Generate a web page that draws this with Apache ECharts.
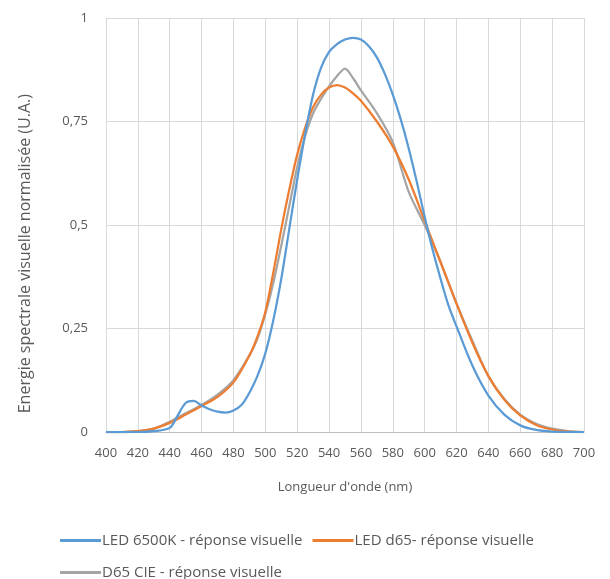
<!DOCTYPE html>
<html>
<head>
<meta charset="utf-8">
<script src="https://cdn.jsdelivr.net/npm/echarts@6/dist/echarts.min.js"></script>
<style>
  html, body { margin: 0; padding: 0; background: #fff; }
  #chart { width: 610px; height: 579px; }
</style>
</head>
<body>
<div id="chart"></div>
<script>
// longueurs d'onde (nm) et réponses normalisées
const ledWl = [400, 410, 420, 430, 440, 445, 450, 455, 460, 465, 470, 475, 480, 485, 490, 495, 500, 505, 510, 515, 520, 525, 530, 535, 540, 545, 550, 555, 560, 565, 570, 575, 580, 585, 590, 595, 600, 605, 610, 615, 620, 630, 640, 650, 660, 670, 680, 690, 700];
const led6500k = [0, 0, 0, 0.002, 0.01, 0.04, 0.07, 0.075, 0.064, 0.055, 0.049, 0.047, 0.052, 0.065, 0.095, 0.135, 0.19, 0.27, 0.37, 0.49, 0.61, 0.72, 0.815, 0.88, 0.918, 0.937, 0.948, 0.952, 0.948, 0.932, 0.905, 0.865, 0.815, 0.755, 0.685, 0.605, 0.52, 0.44, 0.37, 0.305, 0.255, 0.16, 0.088, 0.042, 0.016, 0.005, 0.001, 0, 0];

const d65Wl = [400, 410, 420, 430, 440, 450, 460, 470, 480, 490, 495, 500, 505, 510, 515, 520, 525, 530, 535, 540, 545, 550, 555, 560, 570, 580, 590, 600, 610, 620, 630, 640, 650, 660, 670, 680, 690, 700];
const ledD65 = [0, 0, 0.002, 0.008, 0.022, 0.042, 0.063, 0.085, 0.12, 0.185, 0.23, 0.29, 0.385, 0.49, 0.585, 0.67, 0.735, 0.785, 0.815, 0.832, 0.838, 0.832, 0.818, 0.8, 0.75, 0.69, 0.61, 0.51, 0.41, 0.31, 0.215, 0.135, 0.078, 0.04, 0.017, 0.006, 0.001, 0];

const cieWl = [400, 410, 420, 430, 440, 450, 460, 470, 480, 490, 495, 500, 505, 510, 515, 520, 525, 530, 535, 540, 545, 550, 555, 560, 570, 580, 590, 600, 610, 620, 630, 640, 650, 660, 670, 680, 690, 700];
const d65Cie = [0, 0, 0.002, 0.008, 0.025, 0.045, 0.065, 0.09, 0.125, 0.185, 0.225, 0.285, 0.36, 0.45, 0.545, 0.64, 0.715, 0.77, 0.805, 0.835, 0.86, 0.878, 0.855, 0.825, 0.77, 0.7, 0.58, 0.5, 0.41, 0.31, 0.22, 0.135, 0.08, 0.042, 0.02, 0.008, 0.002, 0];

const names = ['LED 6500K - réponse visuelle', 'LED d65- réponse visuelle', 'D65 CIE - réponse visuelle'];
const colors = ['#5B9BD5', '#ED7D31', '#A5A5A5'];

const font = '"Open Sans", "Noto Sans", sans-serif';
const txt = '#595959';

function pairs(xs, ys) {
  return xs.map((x, i) => [x, ys[i]]);
}

const chart = echarts.init(document.getElementById('chart'), null, { renderer: 'canvas' });

chart.setOption({
  backgroundColor: '#ffffff',
  animation: false,
  textStyle: { fontFamily: font },
  grid: { left: 106, right: 26, top: 18, bottom: 147, containLabel: false },
  xAxis: {
    type: 'value',
    min: 400,
    max: 700,
    interval: 20,
    name: "Longueur d'onde (nm)",
    nameLocation: 'middle',
    nameGap: 49,
    nameTextStyle: { color: txt, fontSize: 13, fontFamily: font },
    axisLine: { show: true, lineStyle: { color: '#BFBFBF', width: 1 } },
    axisTick: { show: false },
    axisLabel: { color: txt, fontSize: 13, margin: 15, fontFamily: font },
    splitLine: { show: true, lineStyle: { color: '#D9D9D9', width: 1 } }
  },
  yAxis: {
    type: 'value',
    min: 0,
    max: 1,
    interval: 0.25,
    axisLine: { show: false },
    axisTick: { show: false },
    axisLabel: {
      color: txt, fontSize: 13, margin: 18, fontFamily: font,
      formatter: v => String(v).replace('.', ',')
    },
    splitLine: { show: true, lineStyle: { color: '#D9D9D9', width: 1 } }
  },
  graphic: [{
    type: 'text',
    left: 17,
    top: 94,
    rotation: Math.PI / 2,
    style: {
      text: 'Energie spectrale visuelle normalisée (U.A.)',
      fill: txt,
      font: '16px ' + font
    }
  }],
  legend: [{
    data: [names[0], names[1]],
    left: 55,
    top: 528,
    itemWidth: 41,
    itemHeight: 3,
    itemGap: 10,
    icon: 'rect',
    textStyle: { color: txt, fontSize: 15, padding: [0, 0, 0, -4], fontFamily: font }
  }, {
    data: [names[2]],
    left: 55,
    top: 560,
    itemWidth: 41,
    itemHeight: 3,
    icon: 'rect',
    textStyle: { color: txt, fontSize: 15, padding: [0, 0, 0, -4], fontFamily: font }
  }],
  series: [
    { name: names[2], data: pairs(cieWl, d65Cie), color: colors[2], z: 2 },
    { name: names[1], data: pairs(d65Wl, ledD65), color: colors[1], z: 3 },
    { name: names[0], data: pairs(ledWl, led6500k), color: colors[0], z: 4 }
  ].map(s => Object.assign({
    type: 'line',
    smooth: 0.3,
    showSymbol: false,
    symbol: 'none',
    lineStyle: { width: 2.25, color: s.color }
  }, s))
});
</script>
</body>
</html>
